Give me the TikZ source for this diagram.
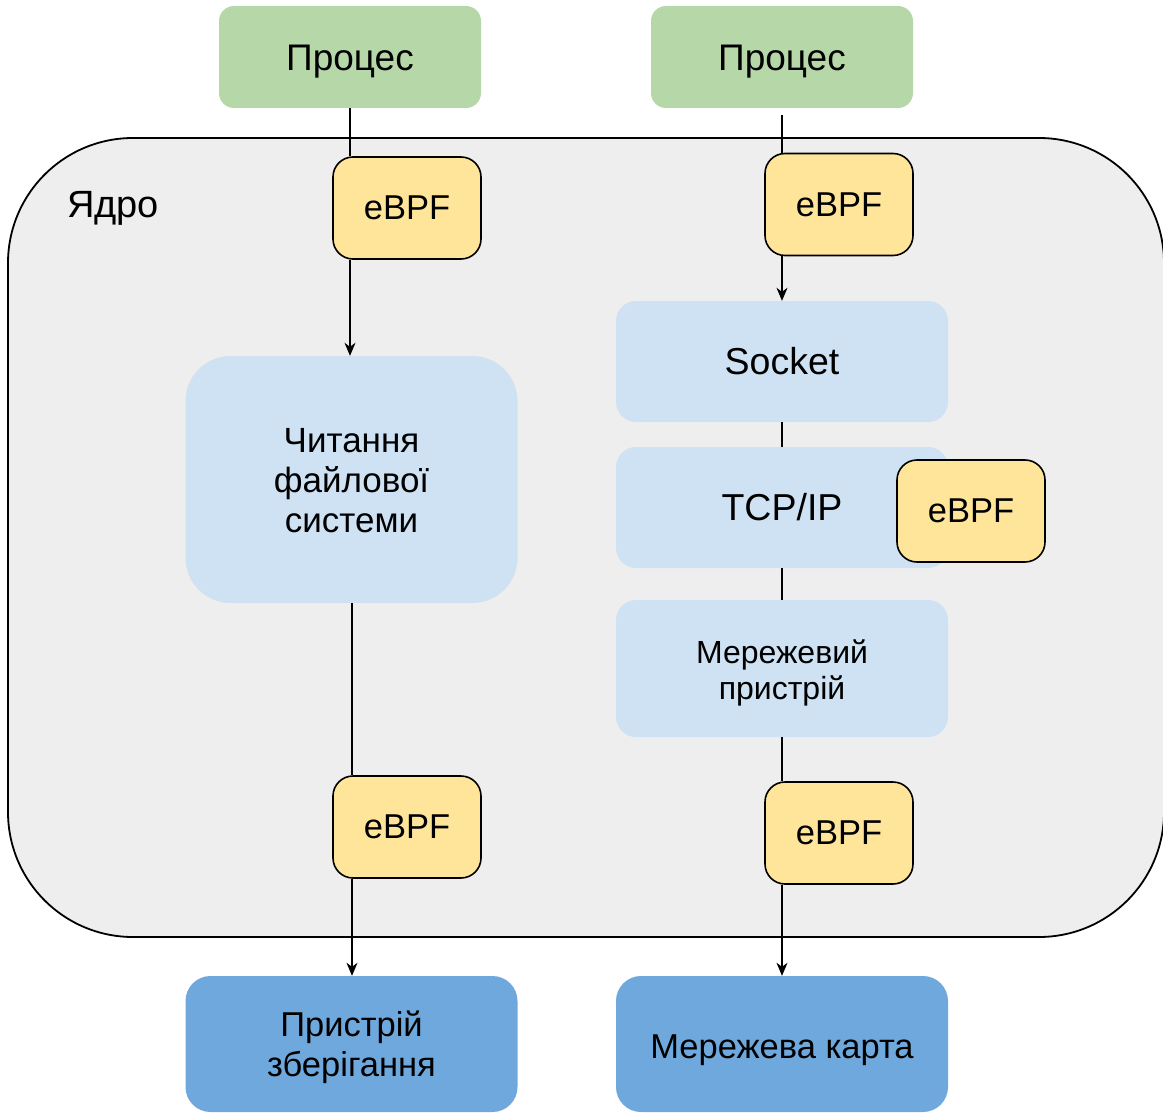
\documentclass[tikz,border=0pt]{standalone}
\usepackage{fontspec}
\setmainfont{Liberation Sans}
\usetikzlibrary{arrows.meta}
\definecolor{procgreen}{HTML}{B6D7A8}
\definecolor{hookyellow}{HTML}{FFE599}
\definecolor{layerblue}{HTML}{CFE2F3}
\definecolor{devblue}{HTML}{6FA8DC}
\definecolor{kernelgrey}{HTML}{EEEEEE}
% centred lines of text, set lower inside their box by #1 (extra room above)
\newcommand{\lowtext}[2]{\raisebox{0pt}[\dimexpr\height+#1*2\relax][\depth]{\begin{tabular}{@{}c@{}}#2\end{tabular}}}
\tikzset{
  box/.style={inner sep=0pt, align=center, text=black},
  procbox/.style={box, fill=procgreen, rounded corners=15pt, minimum width=262pt, minimum height=102pt, font=\fontsize{37}{44}\selectfont},
  hookbox/.style={box, fill=hookyellow, draw=black, line width=1.6pt, rounded corners=20pt, minimum width=148pt, minimum height=102pt, font=\fontsize{34.5}{41}\selectfont},
  layerbox/.style={box, fill=layerblue, rounded corners=20pt, minimum width=332pt},
  devbox/.style={box, fill=devblue, rounded corners=25pt, minimum width=332pt, minimum height=136pt, font=\fontsize{34.5}{40}\selectfont},
  link/.style={line width=1.3pt, draw=black},
  flow/.style={link, -{Stealth[length=13pt, width=11pt, inset=4pt]}},
}
\begin{document}
\begin{tikzpicture}[x=1pt, y=-1pt]
\useasboundingbox (0,0) rectangle (1163,1113);
\begin{scope}
  \clip (0,0) rectangle (1163,1113);
  % kernel space
  \node[draw=black, line width=1.8pt, fill=kernelgrey, rounded corners=125pt,
        minimum width=1156pt, minimum height=799pt, inner sep=0pt] (kernel) at (586,537.5) {};
\end{scope}
\node[anchor=west, inner sep=0pt, font=\fontsize{38}{45}\selectfont] (kname) at (67,208) {Ядро};

% user processes
\node[procbox] (p1) at (350,57) {\lowtext{5pt}{Процес}};
\node[procbox] (p2) at (782,57) {\lowtext{5pt}{Процес}};

% kernel layers
\node[layerbox, rounded corners=45pt, minimum height=247pt, font=\fontsize{35}{40}\selectfont] (fs) at (351.5,479.5) {\lowtext{5pt}{Читання\\файлової\\системи}};
\node[layerbox, minimum height=121pt, font=\fontsize{37.5}{44}\selectfont] (sock) at (782,361.5) {Socket};
\node[layerbox, minimum height=121pt, font=\fontsize{37.5}{44}\selectfont] (tcp) at (782,507.5) {TCP/IP};
\node[layerbox, minimum height=137pt, font=\fontsize{32}{36}\selectfont] (nic) at (782,668.5) {\lowtext{5.5pt}{Мережевий\\пристрій}};

% devices
\node[devbox] (disk) at (351.5,1044) {\lowtext{4.5pt}{Пристрій\\зберігання}};
\node[devbox] (card) at (782,1044) {\lowtext{6pt}{Мережева карта}};

% eBPF hooks
\node[hookbox] (e1) at (407,208) {eBPF};
\node[hookbox] (e2) at (839,204.5) {eBPF};
\node[hookbox] (e3) at (407,827) {eBPF};
\node[hookbox] (e4) at (839,833) {eBPF};
\node[hookbox] (e5) at (971,511) {eBPF};

% file path
\coordinate (l2) at (352,0);
\draw[link] (p1.south) -- (p1.south |- e1.north);
\draw[flow] (p1.south |- e1.south) -- (fs.north -| p1.south);
\draw[link] (fs.south -| l2) -- (e3.north -| l2);
\draw[flow] (e3.south -| l2) -- (disk.north -| l2);

% network path
\draw[link] ([yshift=-7pt]p2.south) -- (p2.south |- e2.north);
\draw[flow] (p2.south |- e2.south) -- (sock.north);
\draw[link] (sock.south) -- (tcp.north);
\draw[link] (tcp.south) -- (nic.north);
\draw[link] (nic.south) -- (nic.south |- e4.north);
\draw[flow] (nic.south |- e4.south) -- (card.north);
\end{tikzpicture}
\end{document}
